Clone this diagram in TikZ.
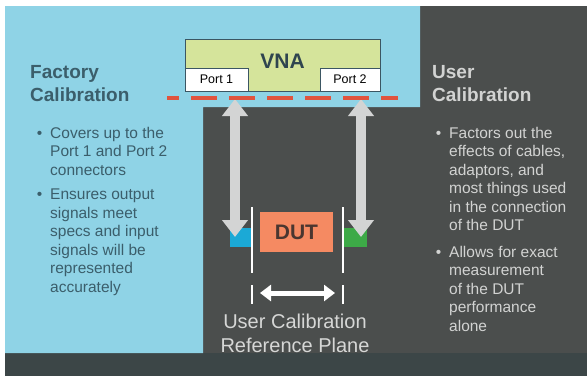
\documentclass[tikz,border=0pt]{standalone}
\usepackage{fontspec}
\setmainfont{Liberation Sans}
\usetikzlibrary{arrows.meta}
\definecolor{calblue}{HTML}{8FD3E6}
\definecolor{bgdark}{HTML}{4B4E4D}
\definecolor{stripdark}{HTML}{3C4647}
\definecolor{vnafill}{HTML}{D5E49B}
\definecolor{vnaedge}{HTML}{3B5663}
\definecolor{planered}{HTML}{E0533E}
\definecolor{leftink}{HTML}{3B5E6B}
\definecolor{rightink}{HTML}{D2D3D2}
\definecolor{dutfill}{HTML}{F58A62}
\definecolor{dutink}{HTML}{4A3630}
\definecolor{conncyan}{HTML}{1BA9D6}
\definecolor{conngreen}{HTML}{3DAA47}
\definecolor{arrowgray}{HTML}{D3D4D4}
\tikzset{
  caltitle/.style={anchor=north west, inner sep=0pt, align=left, font=\fontsize{19}{23}\selectfont\bfseries},
  bullets/.style={anchor=north west, inner sep=0pt, align=left, font=\fontsize{15.5}{18.5}\selectfont},
  port/.style={draw=vnaedge, line width=1pt, fill=white, inner sep=0pt, minimum height=23pt, font=\fontsize{12.5}{14}\selectfont},
  conn/.style={minimum width=23pt, minimum height=19pt, inner sep=0pt},
  cable/.style={arrowgray, line width=10pt, {Triangle[width=25pt,length=17pt]}-{Triangle[width=25pt,length=17pt]}},
  span/.style={white, line width=5pt, {Triangle[width=16pt,length=11pt]}-{Triangle[width=16pt,length=11pt]}},
  plane/.style={white, line width=2.5pt},
}
\newcommand{\bul}{\llap{\textbullet\hspace{8pt}}}
\begin{document}
\begin{tikzpicture}[x=1pt,y=-1pt]
      \useasboundingbox (0,0) rectangle (587,376);
      \fill[white] (0,0) rectangle (587,376);
      \fill[bgdark] (5,6) rectangle (587,376);
      \fill[stripdark] (5,353) rectangle (587,376);
      \fill[calblue] (5,6) -- (420,6) -- (420,107) -- (203,107) -- (203,353) -- (5,353) -- cycle;
      \node[draw=vnaedge, line width=1pt, fill=vnafill, minimum width=195pt, minimum height=52pt, inner sep=0pt] (vna) at (282.5,65) {};
      \node[font=\fontsize{21}{24}\selectfont\bfseries, text=vnaedge!80!black] (vnalabel) at (282.5,61) {VNA};
      \node[port, minimum width=63pt] (port1) at (216.5,79.5) {Port 1};
      \node[port, minimum width=60pt] (port2) at (350,79.5) {Port 2};
      \node[caltitle, text=leftink] (factory) at (30,65) {Factory\\Calibration};
      \node[bullets, text=leftink] (covers) at (50,127) {\bul Covers up to the\\Port 1 and Port 2\\connectors};
      \node[bullets, text=leftink] (ensures) at (50,189) {\bul Ensures output\\signals meet\\specs and input\\signals will be\\represented\\accurately};
      \node[caltitle, text=rightink] (usercal) at (432,65) {User\\Calibration};
      \node[bullets, text=rightink] (factors) at (449,127) {\bul Factors out the\\effects of cables,\\adaptors, and\\most things used\\in the connection\\of the DUT};
      \node[bullets, text=rightink] (allows) at (449,246) {\bul Allows for exact\\measurement\\of the DUT\\performance\\alone};
      \node[conn, fill=conncyan] (connL) at (241.5,237.5) {};
      \node[conn, fill=conngreen] (connR) at (355,237.5) {};
      \node[fill=dutfill, minimum width=73pt, minimum height=40pt, inner sep=0pt, font=\fontsize{21}{24}\selectfont\bfseries, text=dutink] (dut) at (296.5,232) {DUT};
      \coordinate (plane1) at (235,99);
      \coordinate (plane2) at (361,99);
      \coordinate (end1) at (235,237);
      \coordinate (end2) at (361,237);
      \draw[cable] (plane1) -- (end1);
      \draw[cable] (plane2) -- (end2);
      \draw[planered, line width=3.5pt, dash pattern=on 26pt off 12pt, dash phase=14pt] (167,98) -- (398,98);
      \begin{scope}[plane]
        \draw (252,207) -- (252,273);
        \draw (252,285) -- (252,304);
        \draw (343,207) -- (343,273);
        \draw (343,285) -- (343,304);
      \end{scope}
      \coordinate (spanL) at (260,293);
      \coordinate (spanR) at (335,293);
      \draw[span] (spanL) -- (spanR);
      \node[font=\fontsize{20}{24}\selectfont, text=rightink!90!white, align=center, inner sep=0pt] (refplane) at (295,333) {User Calibration\\Reference Plane};
    \end{tikzpicture}
\end{document}
